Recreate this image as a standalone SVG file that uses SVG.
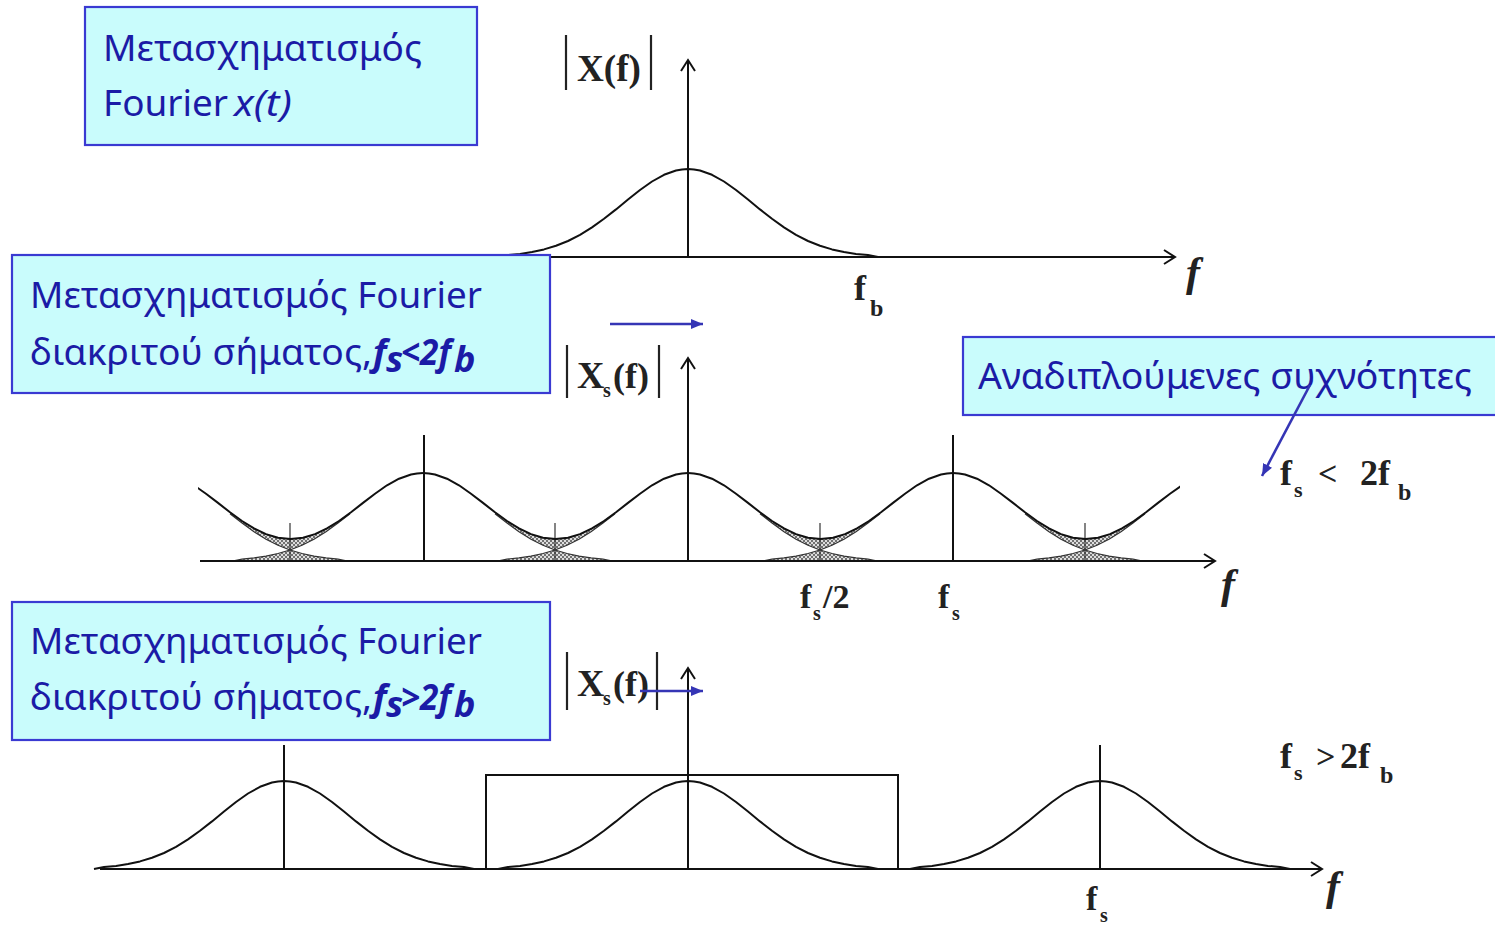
<svg xmlns="http://www.w3.org/2000/svg" xmlns:xlink="http://www.w3.org/1999/xlink" width="1495" height="928" viewBox="0 0 1495 928">
<style>
.box{fill:#c9fcfc;stroke:#3a3ad2;stroke-width:2.2}
.bt{font-family:"Noto Sans","Open Sans","DejaVu Sans",sans-serif;font-size:36px;fill:#1b1ba6}
.bti{font-style:italic}
.btb{font-style:italic;font-weight:bold}
.ax{stroke:#111;stroke-width:2;fill:none}
.cv{stroke:#111;stroke-width:2;fill:none;stroke-linejoin:round}
.tl{stroke:#333;stroke-width:1.2;fill:none}
.bar{stroke:#222;stroke-width:2.2}
.lb{font-family:"Liberation Serif","DejaVu Serif",serif;font-weight:bold;fill:#222}
.fi{font-family:"Liberation Serif","DejaVu Serif",serif;font-style:italic;font-weight:bold;fill:#222;font-size:42px}
.blue{stroke:#3535b5;stroke-width:2.6;fill:none}
</style>
<defs>
<marker id="open" markerUnits="userSpaceOnUse" markerWidth="18" markerHeight="18" refX="14" refY="9" orient="auto">
<path d="M3,2 L14,9 L3,16" fill="none" stroke="#111" stroke-width="2"/>
</marker>
<marker id="bhead" markerUnits="userSpaceOnUse" markerWidth="14" markerHeight="10" refX="12" refY="5" orient="auto">
<path d="M0,0 L12,5 L0,10 Z" fill="#3535b5"/>
</marker>
<pattern id="hatch" width="4" height="4" patternUnits="userSpaceOnUse">
<rect width="4" height="4" fill="#ddd"/>
<path d="M0,4 L4,0 M0,0 L4,4" stroke="#555" stroke-width="0.8"/>
</pattern>
<path id="gauss" d="M-190,0 L-180,-1.9 L-168,-3.1 L-156,-4.9 L-144,-7.6 L-132,-11.2 L-120,-16 L-108,-22.1 L-96,-29.6 L-84,-38.2 L-72,-47.6 L-60,-57.5 L-48,-67 L-36,-75.5 L-24,-82.2 L-12,-86.5 L-6,-87.6 L0,-88 L6,-87.6 L12,-86.5 L24,-82.2 L36,-75.5 L48,-67 L60,-57.5 L72,-47.6 L84,-38.2 L96,-29.6 L108,-22.1 L120,-16 L132,-11.2 L144,-7.6 L156,-4.9 L168,-3.1 L180,-1.9 L190,0"/>
<path id="period" d="M0,-88 L6,-87.6 L12,-86.5 L24,-82.3 L36,-75.7 L48,-67.3 L60,-58.1 L72,-48.7 L84,-40 L96,-32.6 L108,-26.9 L120,-23.3 L132.5,-22 L145,-23.3 L157,-26.9 L169,-32.6 L181,-40 L193,-48.7 L205,-58.1 L217,-67.3 L229,-75.7 L241,-82.3 L253,-86.5 L259,-87.6 L265,-88"/>
<g id="overlap">
<path d="M-60,-48.4 L-48,-39.9 L-36,-32.4 L-24,-26.7 L-12,-23.3 L0,-22 L12,-23.3 L24,-26.7 L36,-32.4 L48,-39.9 L60,-48.4 L60,-47.3 L48,-38 L36,-29.3 L24,-21.8 L12,-15.8 L0,-11 L-12,-15.8 L-24,-21.8 L-36,-29.3 L-48,-38 L-60,-47.3 Z" fill="url(#hatch)"/>
<path d="M-57.5,0 L-48,-1.9 L-36,-3.05 L-24,-4.85 L-12,-7.5 L0,-11 L12,-7.5 L24,-4.85 L36,-3.05 L48,-1.9 L57.5,0 Z" fill="url(#hatch)"/>
<path class="tl" d="M-60,-47.3 L-48,-38 L-36,-29.3 L-24,-21.8 L-12,-15.8 L0,-11 L12,-7.5 L24,-4.85 L36,-3.05 L48,-1.9 L57.5,0"/>
<path class="tl" d="M60,-47.3 L48,-38 L36,-29.3 L24,-21.8 L12,-15.8 L0,-11 L-12,-7.5 L-24,-4.85 L-36,-3.05 L-48,-1.9 L-57.5,0"/>
<path class="tl" d="M0,0 L0,-38"/>
</g>
<clipPath id="midclip"><rect x="198" y="400" width="982" height="170"/></clipPath>
</defs>

<!-- Top panel: X(f) -->
<g id="panel-top">
<use xlink:href="#gauss" href="#gauss" class="cv" x="688" y="257"/>
<line class="ax" x1="512" y1="257" x2="1175" y2="257" marker-end="url(#open)"/>
<line class="ax" x1="688" y1="257" x2="688" y2="60" marker-end="url(#open)"/>
<line class="bar" x1="566" y1="35" x2="566" y2="90"/>
<line class="bar" x1="651" y1="35" x2="651" y2="90"/>
<text class="lb" x="577" y="81" font-size="38" textLength="64" lengthAdjust="spacingAndGlyphs">X(f)</text>
<text class="lb" x="854" y="300" font-size="36">f</text>
<text class="lb" x="870" y="316" font-size="24">b</text>
<text class="fi" x="1186" y="286">f</text>
</g>

<!-- Middle panel: Xs(f), fs < 2fb -->
<g id="panel-mid">
<g clip-path="url(#midclip)">
<use xlink:href="#overlap" href="#overlap" x="290" y="561"/>
<use xlink:href="#overlap" href="#overlap" x="555" y="561"/>
<use xlink:href="#overlap" href="#overlap" x="820" y="561"/>
<use xlink:href="#overlap" href="#overlap" x="1085" y="561"/>
<use xlink:href="#period" href="#period" class="cv" x="158" y="561"/>
<use xlink:href="#period" href="#period" class="cv" x="423" y="561"/>
<use xlink:href="#period" href="#period" class="cv" x="688" y="561"/>
<use xlink:href="#period" href="#period" class="cv" x="953" y="561"/>
</g>
<line class="ax" x1="424" y1="435" x2="424" y2="561"/>
<line class="ax" x1="953" y1="435" x2="953" y2="561"/>
<line class="ax" x1="200" y1="561" x2="1215" y2="561" marker-end="url(#open)"/>
<line class="ax" x1="688" y1="561" x2="688" y2="358" marker-end="url(#open)"/>
<line class="bar" x1="567" y1="345" x2="567" y2="398"/>
<line class="bar" x1="659" y1="345" x2="659" y2="398"/>
<text class="lb" x="577" y="388" font-size="38">X</text>
<text class="lb" x="603" y="397" font-size="20">s</text>
<text class="lb" x="613" y="388" font-size="36">(f)</text>
<text class="lb" x="800" y="608" font-size="34">f</text>
<text class="lb" x="813" y="620" font-size="20">s</text>
<text class="lb" x="823" y="608" font-size="34">/2</text>
<text class="lb" x="938" y="608" font-size="34">f</text>
<text class="lb" x="952" y="620" font-size="20">s</text>
<text class="fi" x="1221" y="598">f</text>
<text class="lb" x="1280" y="485" font-size="36">f</text>
<text class="lb" x="1294" y="497" font-size="22">s</text>
<text class="lb" x="1318" y="485" font-size="34">&lt;</text>
<text class="lb" x="1360" y="485" font-size="36">2f</text>
<text class="lb" x="1398" y="500" font-size="24">b</text>
</g>

<!-- Bottom panel: Xs(f), fs > 2fb -->
<g id="panel-bot">
<use xlink:href="#gauss" href="#gauss" class="cv" x="284" y="869"/>
<use xlink:href="#gauss" href="#gauss" class="cv" x="688" y="869"/>
<use xlink:href="#gauss" href="#gauss" class="cv" x="1100" y="869"/>
<line class="ax" x1="284" y1="745" x2="284" y2="869"/>
<line class="ax" x1="1100" y1="745" x2="1100" y2="869"/>
<path class="ax" d="M486,869 L486,775 L898,775 L898,869"/>
<line class="ax" x1="100" y1="869" x2="1322" y2="869" marker-end="url(#open)"/>
<line class="ax" x1="688" y1="869" x2="688" y2="668" marker-end="url(#open)"/>
<line class="bar" x1="567" y1="652" x2="567" y2="710"/>
<line class="bar" x1="657" y1="652" x2="657" y2="710"/>
<text class="lb" x="577" y="696" font-size="38">X</text>
<text class="lb" x="603" y="705" font-size="20">s</text>
<text class="lb" x="613" y="696" font-size="36">(f)</text>
<text class="lb" x="1086" y="910" font-size="34">f</text>
<text class="lb" x="1100" y="922" font-size="20">s</text>
<text class="fi" x="1326" y="900">f</text>
<text class="lb" x="1280" y="768" font-size="36">f</text>
<text class="lb" x="1294" y="780" font-size="22">s</text>
<text class="lb" x="1316" y="768" font-size="34">&gt;</text>
<text class="lb" x="1340" y="768" font-size="36">2f</text>
<text class="lb" x="1380" y="783" font-size="24">b</text>
</g>

<!-- Text boxes -->
<g id="box-xt">
<rect class="box" x="85" y="7" width="392" height="138"/>
<text class="bt" x="103" y="61" textLength="319" lengthAdjust="spacingAndGlyphs">Μετασχηματισμός</text>
<text class="bt" x="103" y="116" textLength="125" lengthAdjust="spacingAndGlyphs">Fourier</text>
<text class="bt bti" x="234" y="116" textLength="58" lengthAdjust="spacingAndGlyphs">x(t)</text>
</g>
<g id="box-lt">
<rect class="box" x="12" y="255" width="538" height="138"/>
<text class="bt" x="30" y="308" textLength="452" lengthAdjust="spacingAndGlyphs">Μετασχηματισμός Fourier</text>
<text class="bt" x="30" y="365" textLength="342" lengthAdjust="spacingAndGlyphs">διακριτού σήματος,</text>
<text class="bt btb" x="373" y="365">f</text>
<text class="bt btb" x="386" y="372" font-size="21">s</text>
<text class="bt btb" x="401" y="365" textLength="50" lengthAdjust="spacingAndGlyphs">&lt;2f</text>
<text class="bt btb" x="454" y="372" font-size="24">b</text>
</g>
<g id="box-gt">
<rect class="box" x="12" y="602" width="538" height="138"/>
<text class="bt" x="30" y="654" textLength="452" lengthAdjust="spacingAndGlyphs">Μετασχηματισμός Fourier</text>
<text class="bt" x="30" y="710" textLength="342" lengthAdjust="spacingAndGlyphs">διακριτού σήματος,</text>
<text class="bt btb" x="373" y="710">f</text>
<text class="bt btb" x="386" y="717" font-size="21">s</text>
<text class="bt btb" x="401" y="710" textLength="50" lengthAdjust="spacingAndGlyphs">&gt;2f</text>
<text class="bt btb" x="454" y="717" font-size="24">b</text>
</g>
<g id="box-alias">
<rect class="box" x="963" y="337" width="540" height="78"/>
<text class="bt" x="978" y="389" textLength="494" lengthAdjust="spacingAndGlyphs">Αναδιπλούμενες συχνότητες</text>
</g>

<!-- Connectors -->
<g id="connectors">
<line class="blue" x1="610" y1="324" x2="703" y2="324" marker-end="url(#bhead)"/>
<line class="blue" x1="640" y1="691" x2="703" y2="691" marker-end="url(#bhead)"/>
<line class="blue" x1="1310" y1="385" x2="1262" y2="476" marker-end="url(#bhead)" stroke-width="2"/>
</g>
</svg>
